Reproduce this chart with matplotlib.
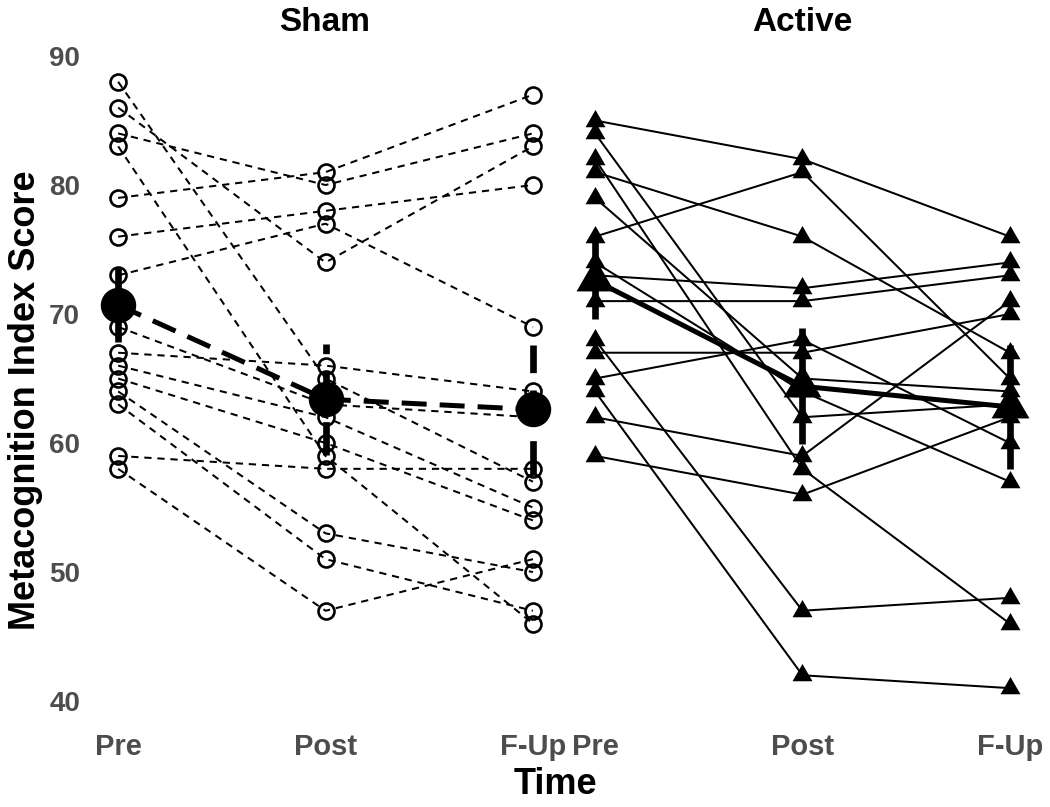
import matplotlib
matplotlib.use("Agg")
import matplotlib.pyplot as plt
from matplotlib.path import Path

plt.rcParams['font.family'] = ['Liberation Sans', 'DejaVu Sans']
plt.rcParams['font.weight'] = 'bold'

# ---------------- data ----------------
times = ["Pre", "Post", "F-Up"]
yticks = [40, 50, 60, 70, 80, 90]

sham_pre  = [88, 86, 84, 83, 79, 76, 73, 69, 67, 66, 65, 64, 63, 59, 58]
sham_post = [65, 74, 80, 59, 81, 78, 77, 63, 66, 62, 60, 53, 51, 58, 47]
sham_fup  = [57, 83, 84, 46, 87, 80, 69, 62, 64, 55, 54, 50, 47, 58, 51]

active_pre  = [85, 84, 82, 81, 79, 76, 74, 73, 71, 68, 67, 65, 64, 62, 59]
active_post = [82, 62, 58, 76, 65, 81, 64, 72, 71, 47, 67, 68, 42, 59, 56]
active_fup  = [76, 63, 46, 67, 64, 65, 57, 74, 73, 48, 70, 60, 41, 71, 62]

sham_mean = [70.7, 63.4, 62.6]
sham_err = [2.9, 4.3, 5.0]
active_mean = [72.6, 64.4, 62.8]
active_err = [3.0, 4.5, 4.8]

# ---------------- style ----------------
TICK_GREY = "#4d4d4d"
tri = Path([(0, 1), (-0.866, -0.5), (0.866, -0.5), (0, 1)],
           [Path.MOVETO, Path.LINETO, Path.LINETO, Path.CLOSEPOLY])
thin_dash = (0, (3.6, 2.9))
thick_dash = (0, (5.0, 2.6))

fig = plt.figure(figsize=(10.5, 8.07), dpi=100)
ax1 = fig.add_axes([0.0829, 0.1073, 0.4543, 0.8393])
ax2 = fig.add_axes([0.5371, 0.1073, 0.4543, 0.8393])

x = [1, 2, 3]


def draw_panel(ax, pre, post, fup, mean, err, sham):
    ls = thin_dash if sham else '-'
    for a, b, c in zip(pre, post, fup):
        ax.plot(x, [a, b, c], color='black', lw=1.45, ls=ls, zorder=2,
                solid_capstyle='butt', dash_capstyle='butt')
    for xi, vals in zip(x, [pre, post, fup]):
        if sham:
            ax.plot([xi] * len(vals), vals, ls='none', marker='o', ms=11.5,
                    mfc='none', mec='black', mew=1.9, zorder=3, clip_on=False)
        else:
            ax.plot([xi] * len(vals), vals, ls='none', marker=tri, ms=16.6,
                    mfc='black', mec='black', mew=0, zorder=3, clip_on=False)
    mls = thick_dash if sham else '-'
    ax.plot(x, mean, color='black', lw=3.6, ls=mls, zorder=4,
            solid_capstyle='butt', dash_capstyle='butt')
    for xi, m, e in zip(x, mean, err):
        ax.plot([xi, xi], [m - e, m + e], color='black', lw=4.8, ls=mls,
                zorder=4, solid_capstyle='butt', dash_capstyle='butt')
    if sham:
        ax.plot(x, mean, ls='none', marker='o', ms=24.5, mfc='black',
                mec='black', zorder=5, clip_on=False)
    else:
        ax.plot(x, mean, ls='none', marker=tri, ms=31.5, mfc='black',
                mec='black', mew=0, zorder=5, clip_on=False)

    ax.set_xlim(0.85, 3.15)
    ax.set_ylim(38.5, 91)
    for s in ax.spines.values():
        s.set_visible(False)
    ax.set_xticks(x)
    ax.set_xticklabels(times, fontsize=21, color=TICK_GREY, fontweight='bold')
    ax.tick_params(axis='x', length=0, pad=9)


draw_panel(ax1, sham_pre, sham_post, sham_fup, sham_mean, sham_err, True)
draw_panel(ax2, active_pre, active_post, active_fup, active_mean, active_err, False)

ax1.set_yticks(yticks)
ax1.set_yticklabels([str(v) for v in yticks], fontsize=20, color=TICK_GREY,
                    fontweight='bold')
ax1.tick_params(axis='y', length=0, pad=5)
ax2.set_yticks([])

fig.text(0.3095, 0.9727, "Sham", fontsize=24, fontweight='bold',
         ha='center', va='center')
fig.text(0.7638, 0.9727, "Active", fontsize=24, fontweight='bold',
         ha='center', va='center')
fig.text(0.5286, 0.0273, "Time", fontsize=26, fontweight='bold',
         ha='center', va='center')
fig.text(0.024, 0.504, "Metacognition Index Score", fontsize=26,
         fontweight='bold', ha='center', va='center', rotation=90)

fig.savefig("out.png", dpi=100)
